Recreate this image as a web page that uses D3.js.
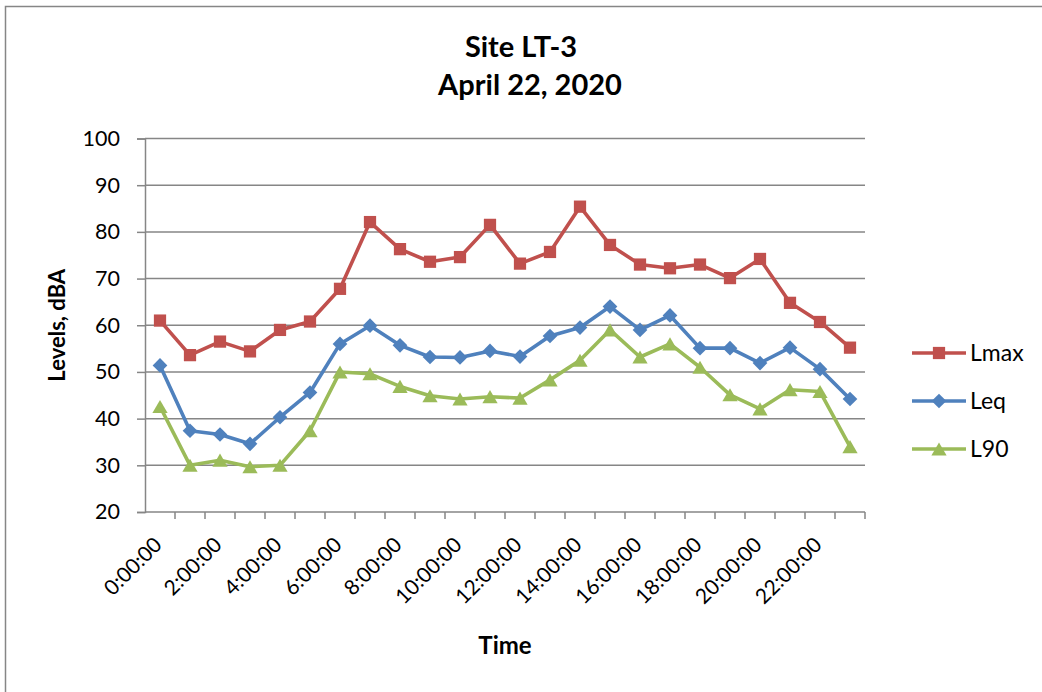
<!DOCTYPE html>
<html>
<head>
<meta charset="utf-8">
<script src="https://cdn.jsdelivr.net/npm/d3@7"></script>
<style>
  html, body { margin: 0; padding: 0; background: #fff; }
  svg { display: block; font-family: Lato, "Open Sans", sans-serif; }
</style>
</head>
<body>
<svg id="chart" width="1042" height="692"></svg>
<script>
// Hourly noise levels at Site LT-3
const hours = ["0:00:00","1:00:00","2:00:00","3:00:00","4:00:00","5:00:00","6:00:00","7:00:00",
  "8:00:00","9:00:00","10:00:00","11:00:00","12:00:00","13:00:00","14:00:00","15:00:00",
  "16:00:00","17:00:00","18:00:00","19:00:00","20:00:00","21:00:00","22:00:00","23:00:00"];
const lmax = [61.0, 53.6, 56.5, 54.4, 59.0, 60.8, 67.8, 82.1, 76.3, 73.6, 74.6, 81.5,
  73.2, 75.7, 85.4, 77.2, 73.0, 72.2, 73.0, 70.1, 74.2, 64.8, 60.7, 55.2];
const leq = [51.4, 37.4, 36.6, 34.6, 40.3, 45.6, 56.0, 59.9, 55.7, 53.2, 53.1, 54.5,
  53.3, 57.7, 59.5, 64.0, 59.0, 62.1, 55.1, 55.1, 51.9, 55.2, 50.6, 44.2];
const l90 = [42.6, 30.0, 31.1, 29.7, 30.0, 37.4, 50.0, 49.6, 46.9, 44.9, 44.2, 44.7,
  44.4, 48.3, 52.5, 59.0, 53.2, 56.0, 51.0, 45.1, 42.1, 46.2, 45.8, 34.0];
const yTicks = [20, 30, 40, 50, 60, 70, 80, 90, 100];
const xLabelEvery = 2;

const seriesNames = ["Lmax", "Leq", "L90"];
const seriesValues = [lmax, leq, l90];
const seriesColors = ["#C0504D", "#4F81BD", "#9BBB59"];

// marker shapes: square, diamond (rotated square) and triangle
const markerSquare = {
  draw(ctx, size) { const h = Math.sqrt(size) / 2; ctx.rect(-h, -h, 2 * h, 2 * h); }
};
const markerDiamond = {
  draw(ctx, size) {
    const r = Math.sqrt(size / 2);
    ctx.moveTo(0, -r); ctx.lineTo(r, 0); ctx.lineTo(0, r); ctx.lineTo(-r, 0); ctx.closePath();
  }
};
const markerTriangle = {
  draw(ctx, size) {
    const w = Math.sqrt(size * 2 / 0.86) / 2, h = w * 0.86;
    ctx.moveTo(0, -h); ctx.lineTo(w, h); ctx.lineTo(-w, h); ctx.closePath();
  }
};
const seriesShapes = [markerSquare, markerDiamond, markerTriangle];
const symbolSizes = [150, 108, 100];

const svg = d3.select("#chart");
const W = 1042, H = 692;
const plot = { left: 145, right: 865, top: 138.5, bottom: 512 };
const axisColor = "#868686";

// outer frame of the chart
svg.append("rect")
  .attr("x", 5.5).attr("y", 6.5)
  .attr("width", W + 10).attr("height", H + 10)
  .attr("fill", "#fff").attr("stroke", axisColor).attr("stroke-width", 1.5);

const x = d3.scaleBand().domain(hours).range([plot.left, plot.right]).paddingInner(0).paddingOuter(0);
const cx = d => x(d) + x.bandwidth() / 2;
const y = d3.scaleLinear().domain([20, 100]).range([plot.bottom, plot.top]);

// horizontal gridlines
svg.append("g")
  .selectAll("line")
  .data(yTicks.filter(t => t > 20))
  .join("line")
  .attr("x1", plot.left).attr("x2", plot.right)
  .attr("y1", d => y(d)).attr("y2", d => y(d))
  .attr("stroke", axisColor).attr("stroke-width", 1.5);

// y axis
const yAxis = svg.append("g")
  .attr("transform", `translate(${plot.left},0)`)
  .call(d3.axisLeft(y).tickValues(yTicks).tickSize(8).tickPadding(17).tickFormat(d3.format("d")));
yAxis.select(".domain").attr("stroke", axisColor).attr("stroke-width", 1.5);
yAxis.selectAll(".tick line").attr("stroke", axisColor).attr("stroke-width", 1.5);
yAxis.selectAll(".tick text").attr("font-size", 21.5).attr("fill", "#000")
  .attr("font-family", "Lato, 'Open Sans', sans-serif");

// x axis: tick marks at category boundaries
const xAxisG = svg.append("g").attr("transform", `translate(0,${plot.bottom})`);
xAxisG.append("line")
  .attr("x1", plot.left).attr("x2", plot.right)
  .attr("stroke", axisColor).attr("stroke-width", 1.5);
const bounds = hours.map(h => x(h) + x.bandwidth());
xAxisG.selectAll("line.tk")
  .data(bounds)
  .join("line").attr("class", "tk")
  .attr("x1", d => d).attr("x2", d => d)
  .attr("y1", 0).attr("y2", 7)
  .attr("stroke", axisColor).attr("stroke-width", 1.5);

xAxisG.selectAll("text")
  .data(hours.filter((h, i) => i % xLabelEvery === 0))
  .join("text")
  .attr("transform", d => `translate(${cx(d) - 2},${29}) rotate(-45)`)
  .attr("text-anchor", "end")
  .attr("dy", "0.35em")
  .attr("font-size", 21)
  .attr("fill", "#000")
  .text(d => d);

// series lines and markers
const line = d3.line().x((d, i) => cx(hours[i])).y(d => y(d));
seriesValues.forEach((vals, s) => {
  svg.append("path")
    .datum(vals)
    .attr("d", line)
    .attr("fill", "none")
    .attr("stroke", seriesColors[s])
    .attr("stroke-width", 3.6)
    .attr("stroke-linejoin", "round");
  svg.append("g")
    .selectAll("path")
    .data(vals)
    .join("path")
    .attr("transform", (d, i) => `translate(${cx(hours[i])},${y(d)})`)
    .attr("d", d3.symbol(seriesShapes[s], symbolSizes[s]))
    .attr("fill", seriesColors[s]);
});

// titles
svg.append("text").attr("x", 521).attr("y", 57).attr("text-anchor", "middle")
  .attr("font-size", 29).attr("font-weight", "bold").text("Site LT-3");
svg.append("text").attr("x", 530).attr("y", 95).attr("text-anchor", "middle")
  .attr("font-size", 29).attr("font-weight", "bold").text("April 22, 2020");
svg.append("text").attr("x", 505).attr("y", 654).attr("text-anchor", "middle")
  .attr("font-size", 24).attr("font-weight", "bold").text("Time");
svg.append("text")
  .attr("transform", `translate(65,${(plot.top + plot.bottom) / 2}) rotate(-90)`)
  .attr("text-anchor", "middle")
  .attr("font-size", 22).attr("font-weight", "bold").text("Levels, dBA");

// legend
const legendY = [353, 401, 449];
const lg = svg.append("g");
seriesNames.forEach((name, s) => {
  lg.append("line")
    .attr("x1", 912).attr("x2", 966)
    .attr("y1", legendY[s]).attr("y2", legendY[s])
    .attr("stroke", seriesColors[s]).attr("stroke-width", 3.6);
  lg.append("path")
    .attr("transform", `translate(939,${legendY[s]})`)
    .attr("d", d3.symbol(seriesShapes[s], symbolSizes[s]))
    .attr("fill", seriesColors[s]);
  lg.append("text")
    .attr("x", 970).attr("y", legendY[s]).attr("dy", "0.35em")
    .attr("font-size", 23).text(name);
});
</script>
</body>
</html>
